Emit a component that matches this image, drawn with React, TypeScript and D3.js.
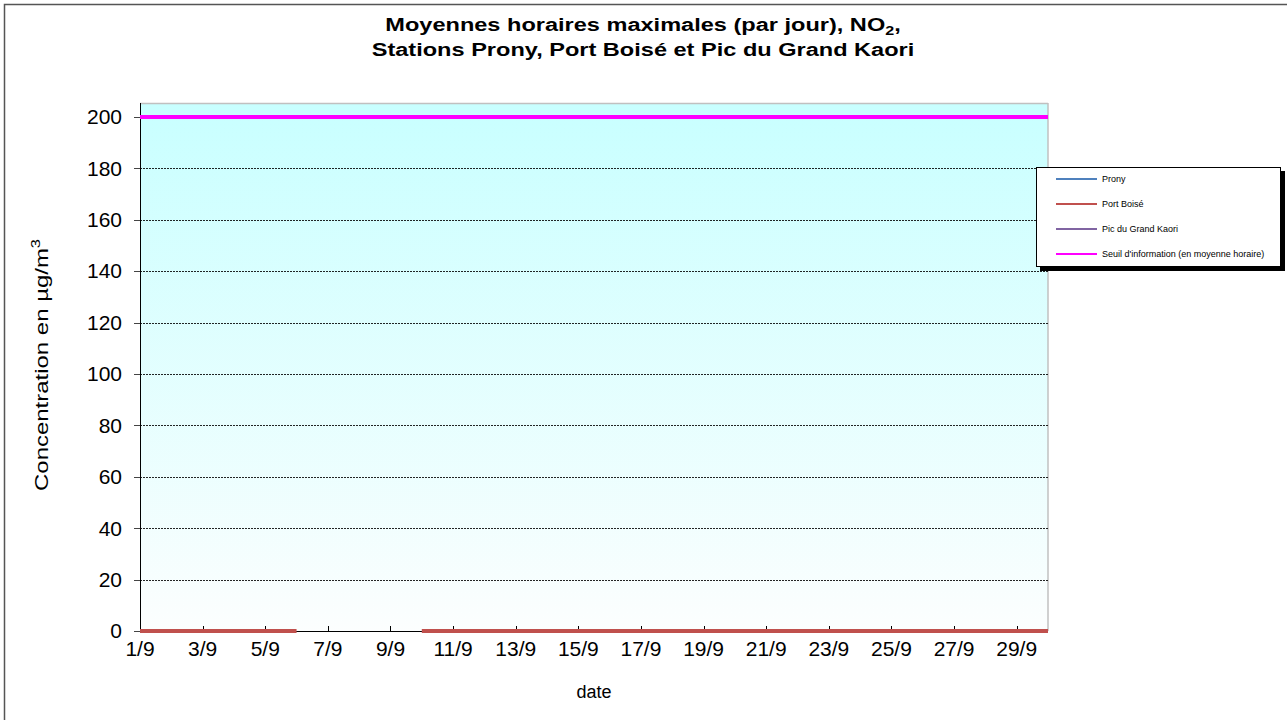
import * as d3 from "d3";

const days: number[] = d3.range(1, 31);
const tickDays = [1, 3, 5, 7, 9, 11, 13, 15, 17, 19, 21, 23, 25, 27, 29];
const yTicks = [0, 20, 40, 60, 80, 100, 120, 140, 160, 180, 200];

// daily max hourly NO2 (µg/m3); null = no data
const prony: (number | null)[] = days.map(() => null);
const portBoise: (number | null)[] = [
  0, 0, 0, 0, 0, 0, null, null, null, 0,
  0, 0, 0, 0, 0, 0, 0, 0, 0, 0,
  0, 0, 0, 0, 0, 0, 0, 0, 0, 0,
];
const picGrandKaori: (number | null)[] = days.map(() => null);
const seuil: number[] = days.map(() => 200);

const series = [
  { name: "Prony", values: prony, color: "#4F81BD", width: 2 },
  { name: "Port Boisé", values: portBoise, color: "#C0504D", width: 4 },
  { name: "Pic du Grand Kaori", values: picGrandKaori, color: "#8064A2", width: 2 },
  { name: "Seuil d'information (en moyenne horaire)", values: seuil, color: "#FF00FF", width: 4 },
];

const W = 1287;
const H = 720;
const left = 140, right = 1048, top = 103, bottom = 631;

export default function App() {
  const x = d3.scaleLinear().domain([1, 30]).range([left, right]);
  const y = d3.scaleLinear().domain([0, 205.4]).range([bottom, top]);

  const line = d3
    .line<number | null>()
    .defined((d) => d !== null)
    .x((_, i) => x(days[i]))
    .y((d) => y(d as number));

  const font = "'Liberation Sans', Arial, sans-serif";

  return (
    <div style={{ position: "absolute", left: 0, top: 0 }}>
      <svg width={W} height={H} style={{ display: "block", fontFamily: font }}>
        <defs>
          <linearGradient id="bg" x1="0" y1="0" x2="0" y2="1">
            <stop offset="0" stopColor="#C8FFFF" />
            <stop offset="1" stopColor="#FCFEFE" />
          </linearGradient>
        </defs>
        <rect x={0} y={0} width={W} height={H} fill="#fff" />
        <rect x={4.5} y={4.5} width={W + 20} height={H + 20} fill="none" stroke="#555" strokeWidth={1.5} />

        {/* title, glyphs stretched wide as in the source */}
        <g transform="translate(643,0) scale(1.24,1)">
          <text x={0} y={31} textAnchor="middle" fontSize={19} fontWeight="bold">
            Moyennes horaires maximales (par jour), NO
            <tspan fontSize={13} dy={4}>2</tspan>
            <tspan dy={-4}>,</tspan>
          </text>
          <text x={0} y={56} textAnchor="middle" fontSize={19} fontWeight="bold">
            Stations Prony, Port Boisé et Pic du Grand Kaori
          </text>
        </g>

        <rect x={left} y={top} width={right - left} height={bottom - top} fill="url(#bg)" />
        <line x1={left} x2={right} y1={top + 0.5} y2={top + 0.5} stroke="#C0C0C0" strokeWidth={1.5} />
        <line x1={right} x2={right} y1={top} y2={bottom} stroke="#C0C0C0" strokeWidth={1.5} />

        {yTicks.filter((t) => t > 0 && t < 200).map((t) => (
          <line key={t} x1={left} x2={right} y1={Math.round(y(t)) + 0.5} y2={Math.round(y(t)) + 0.5}
            stroke="#000" strokeWidth={1} strokeDasharray="2,1" opacity={0.85} />
        ))}

        <line x1={left + 0.5} x2={left + 0.5} y1={top} y2={bottom} stroke="#000" strokeWidth={1} />
        {yTicks.map((t) => (
          <g key={t}>
            <line x1={left - 6} x2={left} y1={Math.round(y(t)) + 0.5} y2={Math.round(y(t)) + 0.5} stroke="#444" />
            <text x={left - 18} y={y(t)} dy="0.35em" textAnchor="end" fontSize={21}>{t}</text>
          </g>
        ))}

        <line x1={left} x2={right} y1={bottom + 0.5} y2={bottom + 0.5} stroke="#000" strokeWidth={1} />
        {tickDays.map((d) => (
          <g key={d}>
            <line x1={Math.round(x(d)) + 0.5} x2={Math.round(x(d)) + 0.5} y1={bottom - 5} y2={bottom} stroke="#000" />
            <text x={x(d)} y={656} textAnchor="middle" fontSize={21}>{`${d}/9`}</text>
          </g>
        ))}

        {series.map((s) => (
          <path key={s.name} d={line(s.values) ?? ""} fill="none" stroke={s.color} strokeWidth={s.width} />
        ))}

        <text x={594} y={698} textAnchor="middle" fontSize={18}>date</text>
        <text transform="translate(48,365) rotate(-90)" textAnchor="middle" fontSize={19}
          textLength={252} lengthAdjust="spacingAndGlyphs">
          Concentration en µg/m<tspan fontSize={13} dy={-8}>3</tspan>
        </text>

        <g>
          <rect x={1040} y={171} width={245} height={100} fill="#000" />
          <rect x={1036.5} y={167.5} width={244} height={99} fill="#fff" stroke="#000" strokeWidth={1} />
          {series.map((s, i) => (
            <g key={s.name}>
              <line x1={1056} x2={1097} y1={179 + i * 25} y2={179 + i * 25} stroke={s.color} strokeWidth={2} />
              <text x={1102} y={179 + i * 25} dy="0.35em" fontSize={9}>{s.name}</text>
            </g>
          ))}
        </g>
      </svg>
    </div>
  );
}
